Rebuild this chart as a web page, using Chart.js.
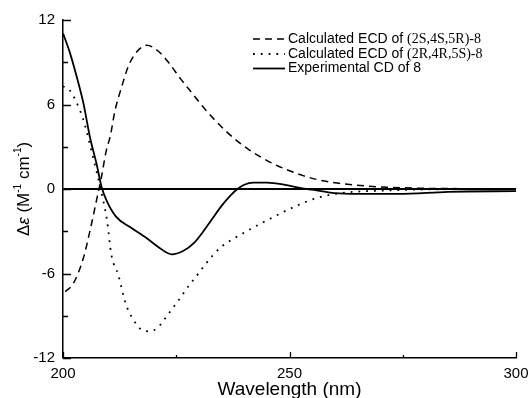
<!DOCTYPE html>
<html>
<head>
<meta charset="utf-8">
<script src="https://cdn.jsdelivr.net/npm/chart.js@4"></script>
<style>
  html, body { margin: 0; padding: 0; background: #fff; }
  #wrap { width: 531px; height: 398px; }
</style>
</head>
<body>
<div id="wrap"><canvas id="c" width="531" height="398"></canvas></div>
<script>
// ---- data ----
const seriesLabels = [
  "Calculated ECD of (2S,4S,5R)-8",
  "Calculated ECD of (2R,4R,5S)-8",
  "Experimental CD of 8"
];
const calcSSR_x = [200.5, 202.3, 204.5, 206, 207.4, 208.5, 209.6, 210.4, 211.5, 213, 214.4, 216.3, 218.5, 221, 223.5, 226, 228.5, 231, 233.5, 236, 238.5, 241, 244, 247, 250, 253, 256, 260, 264, 270, 278, 290, 300];
const calcSSR_y = [-7.3, -6.7, -4.9, -2.9, -0.8, 0.87, 2.8, 3.7, 5.6, 7.3, 8.7, 9.75, 10.2, 9.8, 8.9, 7.8, 6.8, 5.8, 4.9, 4.1, 3.4, 2.8, 2.2, 1.7, 1.3, 0.95, 0.68, 0.45, 0.3, 0.15, 0.06, 0.02, 0.0];

const calcRRS_x = [200, 201.5, 202.6, 204.4, 206.6, 208.2, 209.7, 210.7, 212.2, 213.8, 215.2, 217.4, 219, 220.7, 223.2, 225.5, 227.7, 229.9, 231.3, 233.1, 235, 237.5, 240, 242.5, 246.4, 250.8, 256, 261, 270, 280, 300];
const calcRRS_y = [7.3, 7.0, 6.4, 5.0, 2.3, 0.15, -2.2, -4.7, -6.1, -8.1, -9.1, -10.0, -10.1, -9.9, -8.9, -7.9, -6.9, -6.0, -5.4, -4.7, -4.1, -3.55, -3.1, -2.65, -2.0, -1.3, -0.64, -0.3, -0.12, -0.03, 0.0];

const exp_x = [200, 201.5, 203, 204.5, 206, 207.4, 208.5, 209.6, 211.8, 214.8, 218.5, 221.4, 224, 226.5, 229, 231, 233, 235, 237, 238.5, 240, 242, 245, 249, 252, 255, 260, 265, 274, 285, 300];
const exp_y = [11.05, 9.7, 8.0, 6.1, 3.6, 1.8, 0.16, -0.8, -2.0, -2.7, -3.5, -4.2, -4.64, -4.4, -3.8, -3.0, -2.1, -1.2, -0.45, 0, 0.3, 0.45, 0.45, 0.3, 0.1, -0.05, -0.3, -0.35, -0.35, -0.2, -0.15];

const xTicks = [200, 250, 300];
const xMinorTicks = [225, 275];
const yTicks = [12, 6, 0, -6, -12];
const yMinorTicks = [9, 3, -3, -9];
const xTitle = "Wavelength (nm)";

function pts(xs, ys) { return xs.map((x, i) => ({ x: x, y: ys[i] })); }

const SANS = "'Liberation Sans', Arial, sans-serif";
const SERIF = "'Liberation Serif', 'Times New Roman', serif";

const innerTicks = {
  id: 'innerTicks',
  afterDraw(chart) {
    const ctx = chart.ctx, xs = chart.scales.x, ys = chart.scales.y;
    const ca = chart.chartArea;
    ctx.save();
    ctx.strokeStyle = '#000';
    ctx.lineWidth = 1.3;
    ctx.beginPath();
    yTicks.forEach(v => { const p = Math.round(ys.getPixelForValue(v)) + 0.5; ctx.moveTo(ca.left, p); ctx.lineTo(ca.left + 8, p); });
    yMinorTicks.forEach(v => { const p = Math.round(ys.getPixelForValue(v)) + 0.5; ctx.moveTo(ca.left, p); ctx.lineTo(ca.left + 5, p); });
    xTicks.forEach(v => { const p = Math.round(xs.getPixelForValue(v)) + 0.5; ctx.moveTo(p, ca.bottom); ctx.lineTo(p, ca.bottom - 6); });
    xMinorTicks.forEach(v => { const p = Math.round(xs.getPixelForValue(v)) + 0.5; ctx.moveTo(p, ca.bottom); ctx.lineTo(p, ca.bottom - 3); });
    ctx.stroke();

    // x title
    ctx.fillStyle = '#000';
    ctx.font = '19px ' + SANS;
    ctx.textAlign = 'center';
    ctx.textBaseline = 'middle';
    ctx.fillText(xTitle, (ca.left + ca.right) / 2, 390);

    // y title with superscripts
    ctx.save();
    ctx.translate(29, (ca.top + ca.bottom) / 2);
    ctx.rotate(-Math.PI / 2);
    const parts = [
      { t: 'Δ', f: '17px ' + SANS, dy: 0 },
      { t: 'ε', f: 'italic 17px ' + SANS, dy: 0 },
      { t: ' (M', f: '17px ' + SANS, dy: 0 },
      { t: '-1', f: '10px ' + SANS, dy: -8 },
      { t: ' cm', f: '17px ' + SANS, dy: 0 },
      { t: '-1', f: '10px ' + SANS, dy: -8 },
      { t: ')', f: '17px ' + SANS, dy: 0 }
    ];
    let total = 0;
    parts.forEach(p => { ctx.font = p.f; total += ctx.measureText(p.t).width; });
    let x = -total / 2;
    ctx.textAlign = 'left';
    ctx.textBaseline = 'alphabetic';
    parts.forEach(p => { ctx.font = p.f; ctx.fillText(p.t, x, p.dy); x += ctx.measureText(p.t).width; });
    ctx.restore();

    // legend
    const rows = [39, 54, 68.5];
    chart.data.datasets.forEach((ds, i) => {
      const y = rows[i];
      ctx.save();
      ctx.strokeStyle = '#000';
      ctx.lineWidth = ds.borderWidth;
      ctx.setLineDash(ds.borderDash || []);
      ctx.beginPath();
      ctx.moveTo(253, y);
      ctx.lineTo(285, y);
      ctx.stroke();
      ctx.restore();
      const label = ds.label;
      const k = label.indexOf('(');
      const a = k >= 0 ? label.slice(0, k) : label;
      const b = k >= 0 ? label.slice(k) : '';
      ctx.textAlign = 'left';
      ctx.textBaseline = 'middle';
      ctx.font = '14px ' + SANS;
      ctx.fillText(a, 288, y);
      const w = ctx.measureText(a).width;
      if (b) { ctx.font = '14px ' + SERIF; ctx.fillText(b, 288 + w, y); }
    });
    ctx.restore();
  }
};

new Chart(document.getElementById('c'), {
  type: 'line',
  data: {
    datasets: [
      { label: seriesLabels[0], data: pts(calcSSR_x, calcSSR_y), borderColor: '#000', borderWidth: 1.5, borderDash: [7, 5], pointRadius: 0, fill: false, cubicInterpolationMode: 'monotone' },
      { label: seriesLabels[1], data: pts(calcRRS_x, calcRRS_y), borderColor: '#000', borderWidth: 1.8, borderDash: [1.8, 6], pointRadius: 0, fill: false, cubicInterpolationMode: 'monotone' },
      { label: seriesLabels[2], data: pts(exp_x, exp_y), borderColor: '#000', borderWidth: 1.8, pointRadius: 0, fill: false, cubicInterpolationMode: 'monotone' }
    ]
  },
  options: {
    responsive: false,
    animation: false,
    devicePixelRatio: 1,
    layout: { padding: { top: 20, right: 15, left: 0, bottom: 0 } },
    plugins: { legend: { display: false }, tooltip: { enabled: false } },
    scales: {
      x: {
        type: 'linear', min: 200, max: 300,
        afterFit(s) { s.height = 40; s.paddingRight = 0; s.paddingLeft = 0; },
        afterBuildTicks(s) { s.ticks = xTicks.map(v => ({ value: v })); },
        ticks: { color: '#000', font: { size: 15, family: SANS }, padding: 7, maxRotation: 0 },
        grid: { display: false, drawTicks: false },
        border: { color: '#000', width: 1.5 }
      },
      y: {
        type: 'linear', min: -12, max: 12,
        afterFit(s) { s.width = 63; s.paddingTop = 0; s.paddingBottom = 0; },
        afterBuildTicks(s) { s.ticks = yTicks.map(v => ({ value: v })); },
        ticks: { color: '#000', font: { size: 15, family: SANS }, padding: 8 },
        grid: {
          drawTicks: false,
          color: c => (c.tick && c.tick.value === 0) ? '#000' : 'rgba(0,0,0,0)',
          lineWidth: c => (c.tick && c.tick.value === 0) ? 2 : 0
        },
        border: { color: '#000', width: 1.5 }
      }
    }
  },
  plugins: [innerTicks]
});
</script>
</body>
</html>
